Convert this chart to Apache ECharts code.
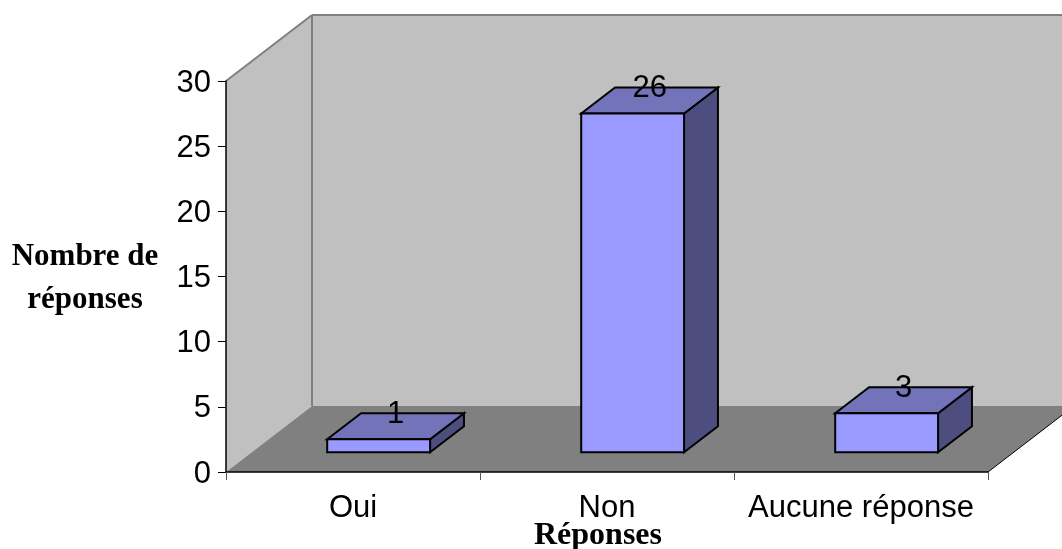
<!DOCTYPE html>
<html>
<head>
<meta charset="utf-8">
<style>html,body{margin:0;padding:0;background:#fff}#chart{width:1062px;height:549px}</style>
<script src="https://cdn.jsdelivr.net/npm/echarts@6/dist/echarts.min.js"></script>
</head>
<body>
<div id="chart"></div>
<script>
// Survey answers
const categories = ['Oui', 'Non', 'Aucune réponse'];
const answers = [1, 26, 3];
const yMax = 30;
const yStep = 5;

// Oblique projection of the 3D box: full chart depth in pixels
const DEPTH_X = 86, DEPTH_Y = 66;
const BAR_FRONT = 0.298, BAR_BACK = 0.692, BAR_WIDTH = 0.405;
const project = (pt, t) => [pt[0] + DEPTH_X * t, pt[1] - DEPTH_Y * t];

// Back wall, side wall and floor
function renderWalls(params, api) {
  const c = params.coordSys;
  const l = c.x, r = c.x + c.width, t = c.y, b = c.y + c.height;
  const poly = (points, fill, stroke) => ({
    type: 'polygon',
    shape: { points },
    style: { fill, stroke: stroke || fill, lineWidth: stroke ? 2 : 0 }
  });
  const line = (a, e, stroke, lineWidth) => ({
    type: 'line',
    shape: { x1: a[0], y1: a[1], x2: e[0], y2: e[1] },
    style: { stroke, lineWidth }
  });
  const blt = [l + DEPTH_X, t - DEPTH_Y], blb = [l + DEPTH_X, b - DEPTH_Y];
  const brt = [r + DEPTH_X, t - DEPTH_Y], brb = [r + DEPTH_X, b - DEPTH_Y];
  return {
    type: 'group',
    children: [
      poly([blt, brt, brb, blb], '#c0c0c0'),
      poly([[l, t], blt, blb, [l, b]], '#c0c0c0'),
      poly([[l, b], blb, brb, [r, b]], '#808080'),
      line(blt, brt, '#808080', 2),
      line([l, t], blt, '#808080', 2),
      line(blt, blb, '#808080', 2),
      line([r, b], brb, '#000', 1)
    ]
  };
}

// One box: front, top and side faces, with its value above the back edge
function renderBar(params, api) {
  const val = api.value(1);
  const base = api.coord([api.value(0), 0]);
  const top = api.coord([api.value(0), val]);
  const half = api.size([1, 0])[0] * BAR_WIDTH / 2;
  const pts = (x, y, depth) => project([x, y], depth);
  const x0 = base[0] - half, x1 = base[0] + half;
  const fbl = pts(x0, base[1], BAR_FRONT), fbr = pts(x1, base[1], BAR_FRONT);
  const ftl = pts(x0, top[1], BAR_FRONT), ftr = pts(x1, top[1], BAR_FRONT);
  const btl = pts(x0, top[1], BAR_BACK), btr = pts(x1, top[1], BAR_BACK);
  const bbr = pts(x1, base[1], BAR_BACK);
  const face = (points, fill) => ({
    type: 'polygon',
    shape: { points },
    style: { fill, stroke: '#000', lineWidth: 2, lineJoin: 'miter' }
  });
  return {
    type: 'group',
    children: [
      face([ftr, btr, bbr, fbr], '#4d4d80'),
      face([ftl, btl, btr, ftr], '#7373b9'),
      face([fbl, ftl, ftr, fbr], '#9999ff'),
      {
        type: 'text',
        z2: 10,
        style: {
          text: String(val),
          x: (ftl[0] + ftr[0]) / 2 + 17,
          y: btl[1] + 1,
          align: 'center',
          verticalAlign: 'middle',
          fill: '#000',
          font: '31px "Liberation Sans", Arial, sans-serif'
        }
      }
    ]
  };
}

const titleFont = { fontFamily: '"Liberation Serif", "Times New Roman", serif', fontWeight: 'bold', color: '#000' };

const chart = echarts.init(document.getElementById('chart'));
chart.setOption({
  animation: false,
  backgroundColor: '#fff',
  title: {
    text: 'Nombre de\nréponses',
    left: 85,
    top: 235,
    padding: 0,
    textAlign: 'center',
    textStyle: Object.assign({ fontSize: 31, lineHeight: 43 }, titleFont)
  },
  grid: { left: 226, right: 74, top: 81, bottom: 77, outerBoundsMode: 'none' },
  xAxis: {
    type: 'category',
    data: categories,
    z: 5,
    name: 'Réponses',
    nameLocation: 'middle',
    nameMoveOverlap: false,
    nameGap: 49,
    nameTextStyle: Object.assign({ fontSize: 32, padding: [0, 18, 0, 0], lineHeight: 30 }, titleFont),
    axisLine: { lineStyle: { color: '#000', width: 1.5 } },
    axisTick: { show: true, length: 8, alignWithLabel: false, lineStyle: { color: '#555', width: 1 } },
    axisLabel: { show: true, interval: 0, hideOverlap: false, color: '#000', fontFamily: '"Liberation Sans", Arial, sans-serif', fontSize: 31, margin: 21 }
  },
  yAxis: {
    type: 'value',
    min: 0,
    max: yMax,
    interval: yStep,
    z: 5,
    splitLine: { show: false },
    axisLine: { show: true, lineStyle: { color: '#000', width: 1.5 } },
    axisTick: { show: true, length: 8, lineStyle: { color: '#000', width: 1 } },
    axisLabel: { color: '#000', fontFamily: '"Liberation Sans", Arial, sans-serif', fontSize: 31, margin: 15, verticalAlign: 'top', lineHeight: 4 }
  },
  series: [
    {
      type: 'custom',
      z: 1,
      silent: true,
      clip: false,
      renderItem: renderWalls,
      data: [[0, 0]]
    },
    {
      type: 'custom',
      z: 6,
      clip: false,
      renderItem: renderBar,
      encode: { x: 0, y: 1 },
      data: answers.map((v, i) => [i, v])
    }
  ]
});
</script>
</body>
</html>
